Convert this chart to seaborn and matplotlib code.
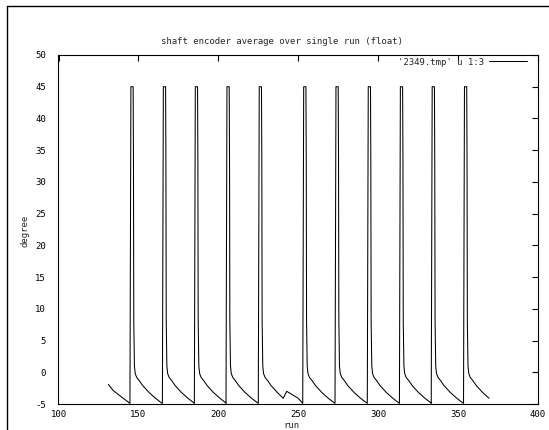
import matplotlib
matplotlib.use("Agg")
import matplotlib.pyplot as plt
from matplotlib.lines import Line2D
import numpy as np
import pandas as pd
import seaborn as sns

# Start of the record, before the first encoder pulse
lead_in_run = [131.2, 134.3]
lead_in_deg = [-1.9, -2.9]

# Runs where the encoder jumps to its peak
spike_runs = [144.7, 165.0, 185.0, 204.8, 225.0, 252.8, 273.0, 293.2, 313.3, 333.2, 353.4]
peak_deg = 45.0

# Shape of one pulse: offset in runs from the jump, and the averaged angle
pulse_offset = [0.0, 0.6, 2.0, 2.2, 2.4, 2.8, 3.3, 4.2, 5.8, 8.0, 12.0, 16.0, 19.6]
pulse_deg = [-4.9, peak_deg, peak_deg, 33.5, 8.0, 1.0, -0.2, -0.8, -1.3, -2.1, -3.2, -4.1, -4.8]

# Irregular stretch between the 5th and 6th pulse
gap_run = [240.6, 242.8, 250.0, 252.5]
gap_deg = [-4.1, -3.0, -4.1, -4.8]

# Number of profile points used by the last pulse (record ends at ~369)
last_pulse_points = 12

xlabels = [100, 150, 200, 250, 300, 350, 400]
ylabels = list(range(-5, 55, 5))

runs = list(lead_in_run)
degs = list(lead_in_deg)
for i, s in enumerate(spike_runs):
    if i == len(spike_runs) - 1:
        n = last_pulse_points
    elif spike_runs[i + 1] - s > 22:
        n = 11
    else:
        n = len(pulse_offset)
    runs += [s + o for o in pulse_offset[:n]]
    degs += pulse_deg[:n]
    if i < len(spike_runs) - 1 and spike_runs[i + 1] - s > 22:
        runs += gap_run
        degs += gap_deg

df = pd.DataFrame({"run": runs, "degree": degs})

sns.set_style("white")
plt.rcParams["font.family"] = ["DejaVu Sans Mono", "DejaVu Sans"]

W, H = 549, 430
fig = plt.figure(figsize=(W / 100, H / 100), dpi=100)
ax = fig.add_axes([58.5 / W, 1 - 404 / H, (538 - 58.5) / W, (404 - 55) / H])

sns.lineplot(data=df, x="run", y="degree", sort=False, estimator=None,
             color="black", linewidth=0.75, ax=ax, label="'2349.tmp' u 1:3")

ax.set_xlim(100, 400)
ax.set_ylim(-5, 50)
ax.set_xticks(xlabels)
ax.set_yticks(ylabels)
ax.set_xticklabels([str(v) for v in xlabels])
ax.set_yticklabels([str(v) for v in ylabels])
ax.tick_params(direction="in", length=4, width=0.8, top=True, right=True,
               labelsize=6.5, colors="black", pad=4)
ax.tick_params(axis="y", pad=9)
for sp in ax.spines.values():
    sp.set_color("black")
    sp.set_linewidth(0.8)
ax.set_xlabel("")
ax.set_ylabel("")

leg = ax.legend(loc="upper right", frameon=False, markerfirst=False,
                handlelength=4.2, fontsize=6.5, borderaxespad=0.0,
                handletextpad=0.6,
                bbox_to_anchor=(531 / W, 1 - 54 / H),
                bbox_transform=fig.transFigure)

fig.text(282 / W, 1 - 42 / H, "shaft encoder average over single run (float)",
         ha="center", va="center", fontsize=6.5)
fig.text(25 / W, 1 - 231 / H, "degree", rotation=90, ha="center", va="center",
         fontsize=6.5)
fig.text(291 / W, 1 - 425 / H, "run", ha="center", va="center", fontsize=6.5)

# window frame along the top and left edge
fig.add_artist(Line2D([7 / W, 7 / W], [0, 1 - 6 / H], color="black", lw=1.0,
                      transform=fig.transFigure))
fig.add_artist(Line2D([7 / W, 1], [1 - 6 / H, 1 - 6 / H], color="black", lw=1.0,
                      transform=fig.transFigure))

fig.savefig("out.png", dpi=100)
